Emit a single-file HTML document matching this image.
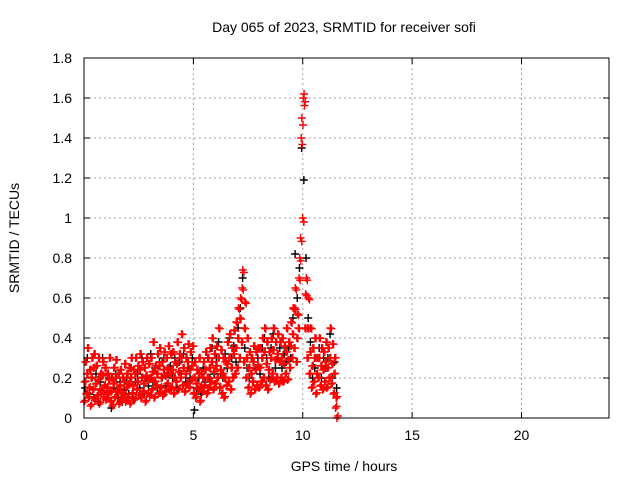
<!DOCTYPE html>
<html><head><meta charset="utf-8"><style>
body{margin:0;background:#fff;font-family:"Liberation Sans",sans-serif}
svg text{font-family:"Liberation Sans",sans-serif;font-size:14px;fill:#000}
</style></head><body>
<svg id="chart" width="640" height="480" xmlns="http://www.w3.org/2000/svg">
<rect width="640" height="480" fill="#fff"/>
<text x="344" y="32" text-anchor="middle">Day 065 of 2023, SRMTID for receiver sofi</text>
<text x="344" y="471" text-anchor="middle">GPS time / hours</text>
<text transform="translate(19,238) rotate(-90)" text-anchor="middle">SRMTID / TECUs</text>
<g id="grid"></g>
<g id="ticks"></g>
<g id="marks"></g>
<rect x="84" y="58" width="525" height="360" fill="none" stroke="#000" stroke-width="1"/>
</svg>
<script>
const xTicks=[0,5,10,15,20];
const yTicks=[0,0.2,0.4,0.6,0.8,1,1.2,1.4,1.6,1.8];
const yTickLabels=["0","0.2","0.4","0.6","0.8","1","1.2","1.4","1.6","1.8"];
const redLow=[0.08,0.12,0.1,0.06,0.14,0.09,0.11,0.07,0.13,0.1,
0.09,0.12,0.08,0.06,0.1,0.13,0.07,0.09,0.11,0.08,
0.1,0.07,0.12,0.09,0.14,0.11,0.1,0.13,0.08,0.12,
0.11,0.14,0.1,0.16,0.12,0.15,0.11,0.13,0.17,0.14,
0.15,0.12,0.18,0.14,0.2,0.16,0.13,0.17,0.15,0.19,
0.12,0.1,0.14,0.08,0.13,0.16,0.12,0.15,0.18,0.14,
0.17,0.2,0.15,0.12,0.1,0.16,0.18,0.14,0.2,0.22,
0.25,0.3,0.38,0.28,0.2,0.15,0.12,0.18,0.14,0.16,
0.15,0.18,0.2,0.16,0.14,0.19,0.22,0.18,0.2,0.17,
0.2,0.18,0.22,0.19,0.25,0.3,0.35,0.28,0.45,0.9,
1.0,0.45,0.3,0.22,0.15,0.18,0.12,0.2,0.16,0.14,
0.18,0.15,0.2,0.17,0.12,0.05];
const redMid=[0.18,0.22,0.15,0.2,0.25,0.17,0.19,0.14,0.21,0.16,
0.15,0.19,0.13,0.17,0.2,0.14,0.16,0.12,0.18,0.15,
0.17,0.2,0.16,0.22,0.18,0.24,0.2,0.17,0.21,0.19,
0.2,0.23,0.18,0.22,0.26,0.2,0.24,0.21,0.25,0.22,
0.24,0.2,0.27,0.23,0.3,0.25,0.22,0.28,0.24,0.26,
0.2,0.17,0.22,0.15,0.2,0.24,0.2,0.25,0.28,0.23,
0.26,0.3,0.24,0.22,0.2,0.27,0.3,0.25,0.32,0.35,
0.4,0.5,0.65,0.45,0.3,0.25,0.22,0.28,0.24,0.26,
0.25,0.3,0.33,0.27,0.24,0.3,0.34,0.29,0.32,0.28,
0.3,0.27,0.33,0.29,0.36,0.42,0.55,0.4,0.7,1.4,
1.6,0.62,0.45,0.33,0.26,0.3,0.22,0.3,0.26,0.24,
0.28,0.25,0.3,0.27,0.22,0.1];
const redHigh=[0.28,0.35,0.24,0.3,0.32,0.26,0.3,0.22,0.28,0.25,
0.22,0.3,0.2,0.25,0.29,0.22,0.24,0.2,0.27,0.22,
0.25,0.3,0.24,0.3,0.26,0.32,0.28,0.25,0.3,0.27,
0.3,0.38,0.26,0.32,0.35,0.28,0.33,0.3,0.36,0.32,
0.33,0.28,0.38,0.32,0.42,0.35,0.3,0.37,0.33,0.36,
0.28,0.24,0.3,0.22,0.28,0.33,0.3,0.35,0.4,0.32,
0.36,0.45,0.34,0.3,0.28,0.38,0.42,0.35,0.44,0.48,
0.55,0.6,0.74,0.58,0.4,0.33,0.3,0.36,0.33,0.35,
0.35,0.4,0.45,0.38,0.33,0.4,0.45,0.38,0.42,0.38,
0.4,0.36,0.45,0.38,0.48,0.55,0.65,0.52,0.8,1.5,
1.62,0.7,0.6,0.45,0.35,0.4,0.3,0.4,0.35,0.33,
0.38,0.35,0.45,0.37,0.3,0.0];
const blackVals=[0.15,0.3,0.12,0.2,0.1,0.22,0.08,0.18,0.3,0.12,
0.1,0.2,0.05,0.15,0.22,0.1,0.18,0.08,0.14,0.2,
0.12,0.25,0.1,0.18,0.22,0.15,0.3,0.12,0.2,0.16,
0.32,0.18,0.25,0.15,0.28,0.2,0.3,0.16,0.22,0.26,
0.2,0.3,0.15,0.28,0.22,0.32,0.18,0.25,0.2,0.3,
0.04,0.15,0.2,0.12,0.25,0.18,0.3,0.2,0.35,0.22,
0.3,0.38,0.22,0.2,0.32,0.25,0.4,0.3,0.36,0.28,
0.45,0.55,0.7,0.35,0.25,0.2,0.3,0.18,0.25,0.3,
0.22,0.35,0.4,0.3,0.2,0.35,0.42,0.25,0.3,0.35,
0.25,0.32,0.28,0.35,0.3,0.5,0.82,0.6,0.75,1.35,
1.19,0.8,0.5,0.38,0.2,0.25,0.3,0.35,0.2,0.3,
0.25,0.3,0.42,0.2,0.28,0.15];
const times=[];for(let i=0;i<116;i++)times.push(+(i*0.1).toFixed(2));
const L=84,R=609,T=58,B=418,XMAX=24,YMAX=1.8;
const xs=v=>L+(v/XMAX)*(R-L);
const ys=v=>B-(v/YMAX)*(B-T);
const NS="http://www.w3.org/2000/svg";
function mk(tag,attrs,parent){const e=document.createElementNS(NS,tag);for(const k in attrs)e.setAttribute(k,attrs[k]);parent.appendChild(e);return e;}
const grid=document.getElementById('grid'),ticks=document.getElementById('ticks'),marks=document.getElementById('marks');
xTicks.forEach(t=>{const x=xs(t);
 if(t>0){const g=mk('line',{x1:x,x2:x,y1:T,y2:B,stroke:'#a0a0a0','stroke-dasharray':'2,3'},grid);
 
 }
 mk('line',{x1:x,x2:x,y1:B,y2:B-6,stroke:'#000'},ticks);
 mk('line',{x1:x,x2:x,y1:T,y2:T+6,stroke:'#000'},ticks);
 const tx=mk('text',{x:x,y:B+22,'text-anchor':'middle'},ticks);tx.textContent=t;
 
 
});
yTicks.forEach((t,i)=>{const y=ys(t);
 if(t>0&&t<1.8){const g=mk('line',{x1:L,x2:R,y1:y,y2:y,stroke:'#a0a0a0','stroke-dasharray':'2,3'},grid);
 
 }
 mk('line',{x1:L,x2:L+6,y1:y,y2:y,stroke:'#000'},ticks);
 mk('line',{x1:R,x2:R-6,y1:y,y2:y,stroke:'#000'},ticks);
 const tx=mk('text',{x:L-12,y:y+5,'text-anchor':'end'},ticks);tx.textContent=yTickLabels[i];
 
 
});
function plus(t,v,color,name){const x=xs(t),y=ys(v);
 const p=mk('path',{d:`M${x-4},${y}H${x+4}M${x},${y-4}V${y+4}`,stroke:color,'stroke-width':1.4,fill:'none'},marks);
 
 }
blackVals.forEach((v,i)=>plus(times[i]+0.05,v,'#000','black-point'));
[redLow,redMid,redHigh].forEach((arr,j)=>arr.forEach((v,i)=>{
 plus(times[i]+j*0.03,v,'#ff0000','red-point');
 plus(times[i]+0.05+j*0.03,v*0.97+0.01,'#ff0000','red-point');
}));
</script>
</body></html>
